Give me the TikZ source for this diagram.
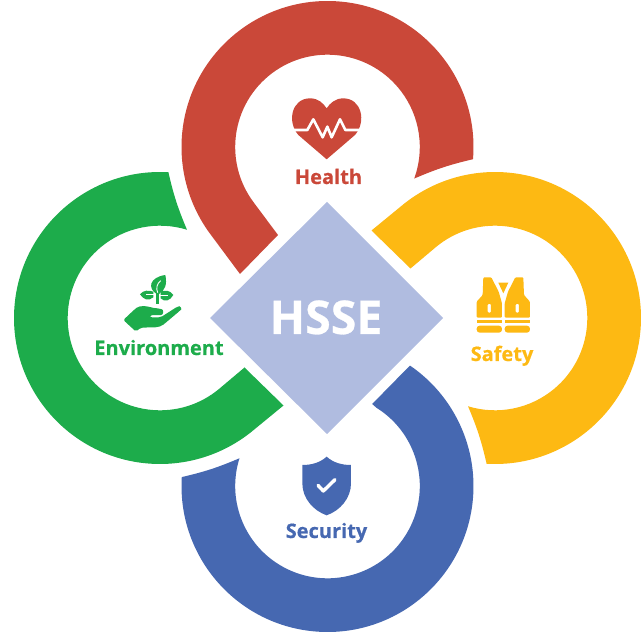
\documentclass[tikz,border=0pt]{standalone}
\usepackage{fontspec}
\setmainfont[BoldFeatures={FakeBold=0.6}]{Open Sans}
\definecolor{cred}{HTML}{CA4839}
\definecolor{cyel}{HTML}{FDB913}
\definecolor{cgrn}{HTML}{1DAC4B}
\definecolor{cblu}{HTML}{4668B1}
\definecolor{cdia}{HTML}{B0BCE0}
\tikzset{
  lbl/.style={anchor=base,inner sep=0pt,font=\fontsize{20}{20}\selectfont\bfseries},
}
% colour, rotation, circle distance, outer start, outer end, inner start, inner end, outer tip, inner tip
\newcommand{\petal}[9]{%
  \fill[#1,shift={(327.5,315)},rotate=#2]
    ([shift={(0,#3)}]#4:146)
    arc[start angle=#4,end angle=#5,radius=146]
    -- (#8) -- (#9)
    -- ([shift={(0,#3)}]#6:92.3)
    arc[start angle=#6,end angle=#7,radius=92.3]
    to[bend left=5] ([shift={(0,#3)}]#4:146) -- cycle;}
\begin{document}
\begin{tikzpicture}[x=1pt,y=1pt]
\useasboundingbox (0,0) rectangle (641,633);
\petal{cred}{0}{171}{-4.8}{217}{217}{-20}{-87.5,44}{-49.5,83}
\petal{cyel}{-90}{167.5}{-3.3}{220}{220}{-17}{-87.5,44}{-49.5,83}
\petal{cblu}{180}{168}{-3.5}{235.4}{238}{-17.5}{-82.3,47.7}{-44.7,86}
\petal{cgrn}{90}{167.5}{-3.3}{220}{220}{-17}{-87.5,44}{-49.5,83}
% diamond
\fill[cdia] (327,431) -- (443,315) -- (327,199) -- (210,315) -- cycle;
\node[lbl,text=white,font=\fontsize{46.5}{46}\selectfont\bfseries] (hsse) at (326,299) {HSSE};
\node[lbl,text=cred] (health) at (328.5,449) {Health};
\node[lbl,text=cyel] (safety) at (502,272) {Safety};
\node[lbl,text=cgrn] (env) at (159,278) {Environment};
\node[lbl,text=cblu] (sec) at (326.5,95) {Security};
% heart
\begin{scope}[shift={(270,553)},x=0.3333pt,y=-0.3333pt]
\fill[cred] (170,238) -- (85,165) .. controls (50,125) and (65,55) .. (120,55)
  .. controls (145,55) and (160,70) .. (170,85)
  .. controls (180,70) and (195,55) .. (220,55)
  .. controls (275,55) and (290,125) .. (255,165) -- cycle;
\draw[white,line width=2.6pt,line join=round] (60,150) -- (112,150) -- (130,118) -- (158,172) -- (172,140) -- (185,172) -- (210,118) -- (226,150) -- (280,150);
\end{scope}
% vest
\begin{scope}[shift={(440,373)},x=0.3333pt,y=-0.3333pt]
\foreach \m in {1,-1}{
\begin{scope}[shift={(190,0)},xscale=\m]
\fill[cyel,even odd rule,rounded corners=1pt]
 (-60,52) -- (-36,52) -- (-14,95) -- (-4,130) -- (-4,173) -- (-80,173) -- (-80,125) -- (-62,105) -- cycle
 (-47,132) rectangle (-37,158);
\fill[cyel] (-80,180) rectangle (-4,190);
\fill[cyel,rounded corners=3pt] (-80,197) -- (-4,197) -- (-4,218) -- (-80,218) -- cycle;
\end{scope}}
\fill[cyel] (175,68) -- (205,68) -- (190,100) -- cycle;
\end{scope}
% plant and hand
\begin{scope}[shift={(90,373)},x=0.3333pt,y=-0.3333pt]
\fill[cgrn,rounded corners=2pt] (100,180) -- (135,147) .. controls (150,136) and (170,138) .. (185,143) -- (210,146) .. controls (222,150) and (220,165) .. (208,165) -- (180,166) -- (180,172) -- (212,172) -- (262,140) .. controls (270,138) and (276,146) .. (270,152) -- (225,190) .. controls (215,198) and (205,202) .. (190,202) -- (152,203) -- (138,215) -- cycle;
\fill[cgrn] (200,102) .. controls (172,85) and (178,52) .. (226,45) .. controls (232,75) and (225,90) .. (207,102) -- cycle;
\draw[white,line width=0.9pt] (212,62) .. controls (200,72) and (198,85) .. (203,98);
\fill[cgrn] (198,100) rectangle (207,132);
\fill[cgrn] (150,103) .. controls (160,90) and (175,90) .. (190,95) -- (190,112) .. controls (175,125) and (160,118) .. (150,103) -- cycle;
\fill[cgrn] (250,105) .. controls (240,90) and (225,90) .. (212,95) -- (212,115) .. controls (225,128) and (240,122) .. (250,105) -- cycle;
\draw[white,line width=0.9pt] (168,104) -- (194,104);
\draw[white,line width=0.9pt] (234,106) -- (209,106);
\end{scope}
% shield
\begin{scope}[shift={(270,193)},x=0.3333pt,y=-0.3333pt]
\fill[cblu] (170,50) .. controls (190,68) and (215,75) .. (243,75) -- (243,130)
  .. controls (243,175) and (210,212) .. (170,226)
  .. controls (130,212) and (97,175) .. (97,130) -- (97,75)
  .. controls (125,75) and (150,68) .. (170,50) -- cycle;
\draw[white,line width=3.4pt,line cap=round,line join=round] (144,136) -- (160,153) -- (195,119);
\end{scope}
\end{tikzpicture}
\end{document}
